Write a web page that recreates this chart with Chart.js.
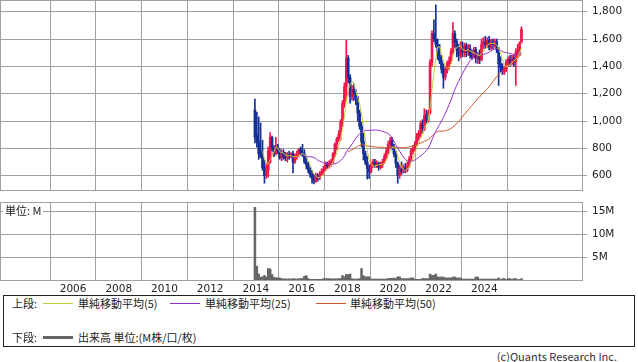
<!DOCTYPE html>
<html>
<head>
<meta charset="utf-8">
<script src="https://cdn.jsdelivr.net/npm/chart.js@4.4.1/dist/chart.umd.min.js"></script>
<style>
  body { margin: 0; width: 638px; height: 362px; background: #fff; position: relative; overflow: hidden;
         font-family: "Noto Sans CJK JP", sans-serif; font-size: 11px; color: #222; }
  canvas { position: absolute; left: 0; }
  .t { position: absolute; white-space: nowrap; line-height: 14px; }
  .ln { position: absolute; height: 1px; }
  #legend { position: absolute; left: 3px; top: 295px; width: 632px; height: 52px; box-sizing: border-box; border: 1px solid #222; }
</style>
</head>
<body>
<canvas id="price" width="638" height="195" style="top:0"></canvas>
<canvas id="vol" width="638" height="100" style="top:195px"></canvas>
<div class="t" style="left:3px;top:203px;background:#fff;padding:0 2px">単位: M</div>

<div id="legend"></div>
<div class="t" style="left:12px;top:296px">上段:</div>
<div class="ln" style="left:43px;top:303px;width:30px;background:#c3cc3a"></div>
<div class="t" style="left:78px;top:296px">単純移動平均(5)</div>
<div class="ln" style="left:170px;top:303px;width:30px;background:#9431cc"></div>
<div class="t" style="left:205px;top:296px">単純移動平均(25)</div>
<div class="ln" style="left:316px;top:303px;width:30px;background:#d2562a"></div>
<div class="t" style="left:350px;top:296px">単純移動平均(50)</div>
<div class="t" style="left:12px;top:330px">下段:</div>
<div class="ln" style="left:43px;top:336px;width:30px;height:3px;background:#666"></div>
<div class="t" style="left:78px;top:330px">出来高 単位:(M株/口/枚)</div>
<div class="t" style="right:21px;top:349px;color:#333">(c)Quants Research Inc.</div>

<script>
// monthly candles, first one is Dec 2013
const firstYear = 2013, firstMonth = 12;

const open = [
  1080,
  900, 850, 780, 740, 660, 600, 640, 700, 880, 800, 760, 810,
  780, 730, 770, 740, 730, 755, 740, 760, 700, 740, 760, 790,
  770, 760, 700, 680, 640, 610, 580, 560, 600, 580, 610, 630,
  650, 680, 670, 690, 700, 760, 830, 870, 900, 990, 1130, 1250,
  1460, 1320, 1180, 1230, 1200, 1170, 1060, 960, 850, 760, 700, 650,
  630, 680, 700, 680, 690, 660, 680, 700, 740, 780, 830, 860,
  810, 760, 690, 600, 650, 630, 660, 640, 670, 720, 780, 800,
  830, 880, 910, 980, 940, 1040, 1000, 1060, 1430, 1640, 1600, 1560,
  1480, 1440, 1380, 1320, 1370, 1420, 1440, 1510, 1640, 1580, 1520, 1480,
  1540, 1500, 1550, 1500, 1530, 1480, 1470, 1520, 1460, 1480, 1450, 1560,
  1580, 1560, 1590, 1540, 1580, 1560, 1580, 1520, 1420, 1390, 1360, 1380,
  1430, 1450, 1420, 1460, 1430, 1500, 1520, 1580
];
const high = [
  1160,
  1065, 1030, 985, 860, 715, 690, 810, 915, 890, 820, 880, 830,
  800, 790, 790, 770, 770, 780, 770, 780, 760, 780, 800, 810,
  830, 790, 740, 700, 660, 640, 610, 620, 615, 630, 650, 670,
  700, 700, 710, 720, 770, 840, 880, 930, 1010, 1150, 1280, 1590,
  1480, 1340, 1260, 1270, 1230, 1180, 1080, 990, 910, 780, 740, 680,
  700, 720, 720, 710, 700, 700, 720, 760, 800, 850, 880, 880,
  830, 780, 700, 680, 700, 680, 690, 700, 740, 800, 820, 850,
  910, 930, 1000, 1010, 1090, 1080, 1080, 1450, 1660, 1740, 1850, 1600,
  1560, 1480, 1420, 1400, 1440, 1470, 1530, 1720, 1660, 1600, 1560, 1580,
  1580, 1570, 1570, 1560, 1560, 1520, 1540, 1540, 1500, 1520, 1600, 1610,
  1620, 1610, 1620, 1600, 1600, 1600, 1600, 1540, 1470, 1420, 1400, 1450,
  1470, 1480, 1480, 1480, 1530, 1560, 1580, 1690
];
const low = [
  840,
  810, 720, 730, 640, 545, 580, 590, 690, 780, 740, 750, 760,
  720, 710, 720, 710, 700, 720, 730, 620, 690, 720, 740, 750,
  740, 690, 650, 620, 590, 545, 540, 550, 560, 570, 600, 610,
  640, 650, 655, 670, 690, 740, 790, 850, 860, 960, 1100, 1150,
  1280, 1130, 1150, 1150, 1120, 1000, 940, 810, 715, 680, 575, 580,
  620, 660, 660, 660, 640, 650, 660, 690, 720, 760, 800, 790,
  740, 660, 545, 580, 610, 620, 620, 630, 660, 710, 760, 780,
  820, 860, 880, 910, 930, 980, 990, 1050, 1400, 1580, 1540, 1450,
  1420, 1350, 1240, 1300, 1350, 1380, 1420, 1490, 1540, 1470, 1440, 1460,
  1470, 1470, 1470, 1480, 1460, 1450, 1460, 1425, 1420, 1420, 1440, 1530,
  1530, 1540, 1520, 1520, 1530, 1540, 1500, 1260, 1360, 1340, 1340, 1360,
  1400, 1400, 1410, 1400, 1260, 1460, 1480, 1570
];
const close = [
  880,
  850, 760, 740, 660, 600, 660, 780, 880, 800, 760, 810, 780,
  730, 770, 740, 730, 755, 740, 760, 700, 740, 760, 790, 770,
  760, 700, 680, 640, 610, 580, 560, 600, 580, 610, 630, 650,
  680, 670, 690, 700, 760, 830, 870, 900, 990, 1130, 1250, 1460,
  1320, 1180, 1230, 1200, 1170, 1060, 960, 850, 760, 700, 650, 630,
  680, 700, 680, 690, 660, 680, 700, 740, 780, 830, 860, 810,
  760, 690, 600, 650, 630, 660, 640, 670, 720, 780, 800, 830,
  880, 910, 980, 940, 1040, 1000, 1060, 1430, 1640, 1600, 1560, 1480,
  1440, 1380, 1320, 1370, 1420, 1440, 1510, 1640, 1580, 1520, 1480, 1540,
  1500, 1550, 1500, 1530, 1480, 1470, 1520, 1460, 1480, 1450, 1560, 1580,
  1560, 1590, 1540, 1580, 1560, 1580, 1520, 1420, 1390, 1360, 1380, 1430,
  1450, 1420, 1460, 1430, 1500, 1520, 1570, 1670
];
// volume, millions
const volume = [
  15.8,
  3.0, 1.3, 0.6, 0.7, 1.0, 0.65, 2.5, 2.4, 1.2, 0.6, 0.5, 0.45,
  0.45, 0.3, 0.25, 0.25, 0.2, 0.25, 0.2, 0.3, 0.25, 0.2, 0.25, 0.3,
  0.35, 0.8, 0.95, 0.3, 0.15, 0.15, 0.15, 0.15, 0.15, 0.15, 0.15, 0.3,
  0.3, 0.3, 0.3, 0.25, 0.25, 0.25, 0.25, 0.3, 0.3, 0.95, 0.7, 1.2,
  1.2, 1.3, 0.25, 0.2, 0.2, 0.2, 0.3, 2.5, 0.95, 0.65, 0.7, 0.7,
  0.2, 0.2, 0.2, 0.2, 0.2, 0.2, 0.2, 0.2, 0.2, 0.35, 0.35, 0.35,
  0.43, 0.3, 0.7, 0.7, 0.3, 0.3, 0.3, 0.3, 0.3, 0.45, 0.45, 0.15,
  0.15, 0.15, 0.15, 0.3, 0.3, 0.3, 0.3, 1.3, 1.0, 1.0, 1.3, 0.65,
  0.65, 0.65, 0.65, 0.45, 0.45, 0.45, 0.45, 0.65, 0.65, 0.45, 0.45, 0.45,
  0.2, 0.2, 0.2, 0.2, 0.2, 0.2, 0.2, 0.65, 0.65, 0.2, 0.2, 0.2,
  0.2, 0.2, 0.2, 0.2, 0.2, 0.2, 0.2, 0.45, 0.1, 0.3, 0.3, 0.1,
  0.3, 0.3, 0.1, 0.3, 0.3, 0.1, 0.1, 0.3
];

const priceTicks = [600, 800, 1000, 1200, 1400, 1600, 1800];
const volumeTicks = [5, 10, 15];
const yearTicks = [2006, 2008, 2010, 2012, 2014, 2016, 2018, 2020, 2022, 2024];
const maPeriods = [5, 25, 50];
const maColors = ['#c3cc3a', '#9431cc', '#d2562a'];

const upColor = '#f0154a', downColor = '#142f96';
const gridColor = '#a0a0a0';
const tickFont = { family: 'DejaVu Sans', size: 10.5 };

// x position of each month (middle of the month, in years)
const xs = close.map((c, i) => firstYear + (firstMonth - 0.5 + i) / 12);
const candleColors = close.map((c, i) => c >= open[i] ? upColor : downColor);

function sma(n) {
  return close.map((c, i) => {
    if (i < n - 1) return { x: xs[i], y: null };
    let s = 0;
    for (let j = i - n + 1; j <= i; j++) s += close[j];
    return { x: xs[i], y: s / n };
  });
}

const frame = {
  id: 'frame',
  afterDraw(chart) {
    const { ctx, chartArea: a } = chart;
    ctx.save();
    ctx.strokeStyle = gridColor;
    ctx.lineWidth = 1;
    ctx.strokeRect(Math.round(a.left) + 0.5, Math.round(a.top) + 0.5,
      Math.round(a.right - a.left), Math.round(a.bottom - a.top));
    ctx.restore();
  }
};

function xAxis(showLabels) {
  return {
    type: 'linear', min: 2004.075, max: 2027,
    afterBuildTicks: a => { a.ticks = yearTicks.map(v => ({ value: v })); },
    grid: { color: gridColor, drawTicks: false },
    border: { display: false },
    ticks: { display: showLabels, padding: 3, color: '#222', font: tickFont,
             maxRotation: 0, autoSkip: false, callback: v => String(v) },
    afterFit: a => { a.height = showLabels ? 15 : 0; }
  };
}

function yAxis(min, max, list, fmt) {
  return {
    position: 'right', min: min, max: max,
    afterBuildTicks: a => { a.ticks = list.map(v => ({ value: v })); },
    grid: { color: gridColor, tickLength: 5 },
    border: { display: false },
    ticks: { padding: 5, color: '#222', font: tickFont, callback: fmt },
    afterFit: a => { a.width = 56; a.paddingTop = 0; a.paddingBottom = 0; }
  };
}

const common = {
  responsive: false,
  animation: false,
  events: [],
  plugins: { legend: { display: false }, tooltip: { enabled: false } }
};

new Chart(document.getElementById('price'), {
  type: 'bar',
  data: {
    datasets: [
      ...maPeriods.map((n, i) => ({
        type: 'line', data: sma(n), borderColor: maColors[i], borderWidth: 1,
        pointRadius: 0, tension: 0, spanGaps: false, order: 1
      })),
      {
        data: xs.map((x, i) => ({ x: x, y: [open[i], close[i]] })),
        backgroundColor: candleColors, barThickness: 2, grouped: false, order: 2
      },
      {
        data: xs.map((x, i) => ({ x: x, y: [low[i], high[i]] })),
        backgroundColor: candleColors, barThickness: 1, grouped: false, order: 3
      }
    ]
  },
  options: {
    ...common,
    layout: { padding: { left: 0, top: 0, right: 0, bottom: 5 } },
    scales: {
      x: xAxis(false),
      y: yAxis(495.4, 1885.6, priceTicks, v => v.toLocaleString('en-US'))
    }
  },
  plugins: [frame]
});

new Chart(document.getElementById('vol'), {
  type: 'bar',
  data: {
    datasets: [{
      data: xs.map((x, i) => ({ x: x, y: volume[i] })),
      backgroundColor: '#666666', barPercentage: 1, categoryPercentage: 1
    }]
  },
  options: {
    ...common,
    layout: { padding: { left: 0, top: 7, right: 0, bottom: 0 } },
    scales: {
      x: xAxis(true),
      y: yAxis(0, 16.96, volumeTicks, v => v + 'M')
    }
  },
  plugins: [frame]
});
</script>
</body>
</html>
